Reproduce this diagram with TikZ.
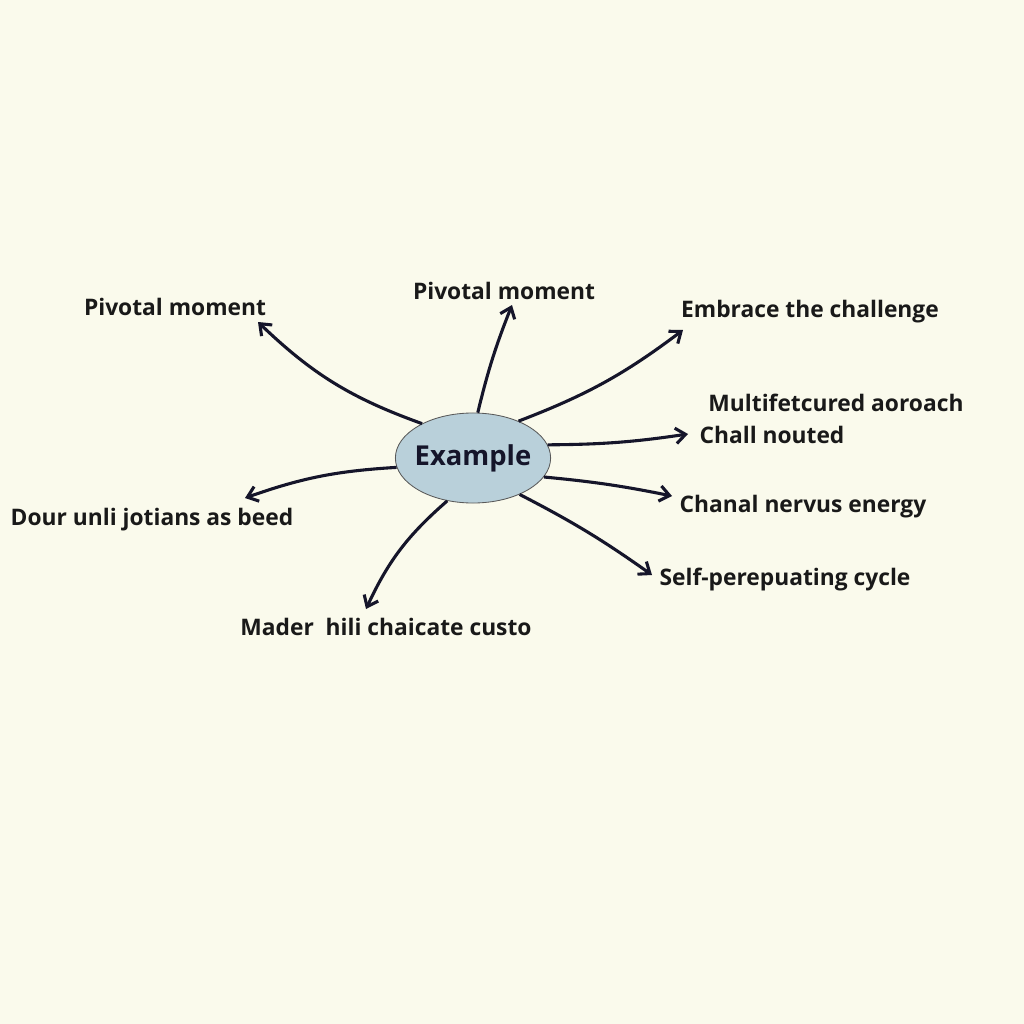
\documentclass[tikz,border=0pt]{standalone}
\usepackage{fontspec}
\setmainfont{Open Sans}
\usetikzlibrary{arrows.meta,shapes.geometric}
\definecolor{bg}{HTML}{FAFAEC}
\definecolor{ink}{HTML}{15152A}
\definecolor{blob}{HTML}{B9D0DA}
\tikzset{
  lbl/.style={font=\fontsize{16.2}{19}\selectfont\bfseries, text=black!90, inner sep=0pt},
  arr/.style={ink, line width=2.2pt, -{Straight Barb[length=7pt,width=11pt,line width=2.2pt]}},
}
\begin{document}
\begin{tikzpicture}[x=0.025cm,y=-0.025cm]
\fill[bg] (0,0) rectangle (1024,1024);
\useasboundingbox (0,0) rectangle (1024,1024);
\node[ellipse, draw=gray!70!black, line width=0.6pt, fill=blob, inner xsep=-3pt, minimum width=3.88cm, minimum height=2.25cm, font=\fontsize{19.5}{24}\selectfont\bfseries, text=ink] (c) at (473,458) {Example};

\node[lbl] (l1) at (175,307) {Pivotal moment};
\node[lbl] (l2) at (504,291) {Pivotal moment};
\node[lbl] (l3) at (810,312) {Embrace the challenge};
\node[lbl] (l4) at (836,403) {Multifetcured aoroach};
\node[lbl] (l5) at (772,435) {Chall nouted};
\node[lbl] (l6) at (803,507) {Chanal nervus energy};
\node[lbl] (l7) at (785,580) {Self-perepuating cycle};
\node[lbl] (l8) at (386,627) {Mader\ \ hili chaicate custo};
\node[lbl] (l9) at (152,520) {Dour unli jotians as beed};

\coordinate (e1) at (258,322);
\coordinate (e2) at (512,305);
\coordinate (e3) at (683,330);
\coordinate (e4) at (688,434);
\coordinate (e5) at (672,496);
\coordinate (e6) at (652,575);
\coordinate (e7) at (366,609);
\coordinate (e9) at (245,498);

\draw[arr] (c.146) to[bend left=12] (e1);
\draw[arr] (c.84) to[bend left=4] (e2);
\draw[arr] (c.39) to[bend right=8] (e3);
\draw[arr] (c.10) to[bend right=4] (e4);
\draw[arr] (c.-15) to[bend left=3] (e5);
\draw[arr] (c.-38) to[bend left=4] (e6);
\draw[arr] (c.-121) to[bend right=12] (e7);
\draw[arr] (c.-173) to[bend right=8] (e9);
\end{tikzpicture}
\end{document}
